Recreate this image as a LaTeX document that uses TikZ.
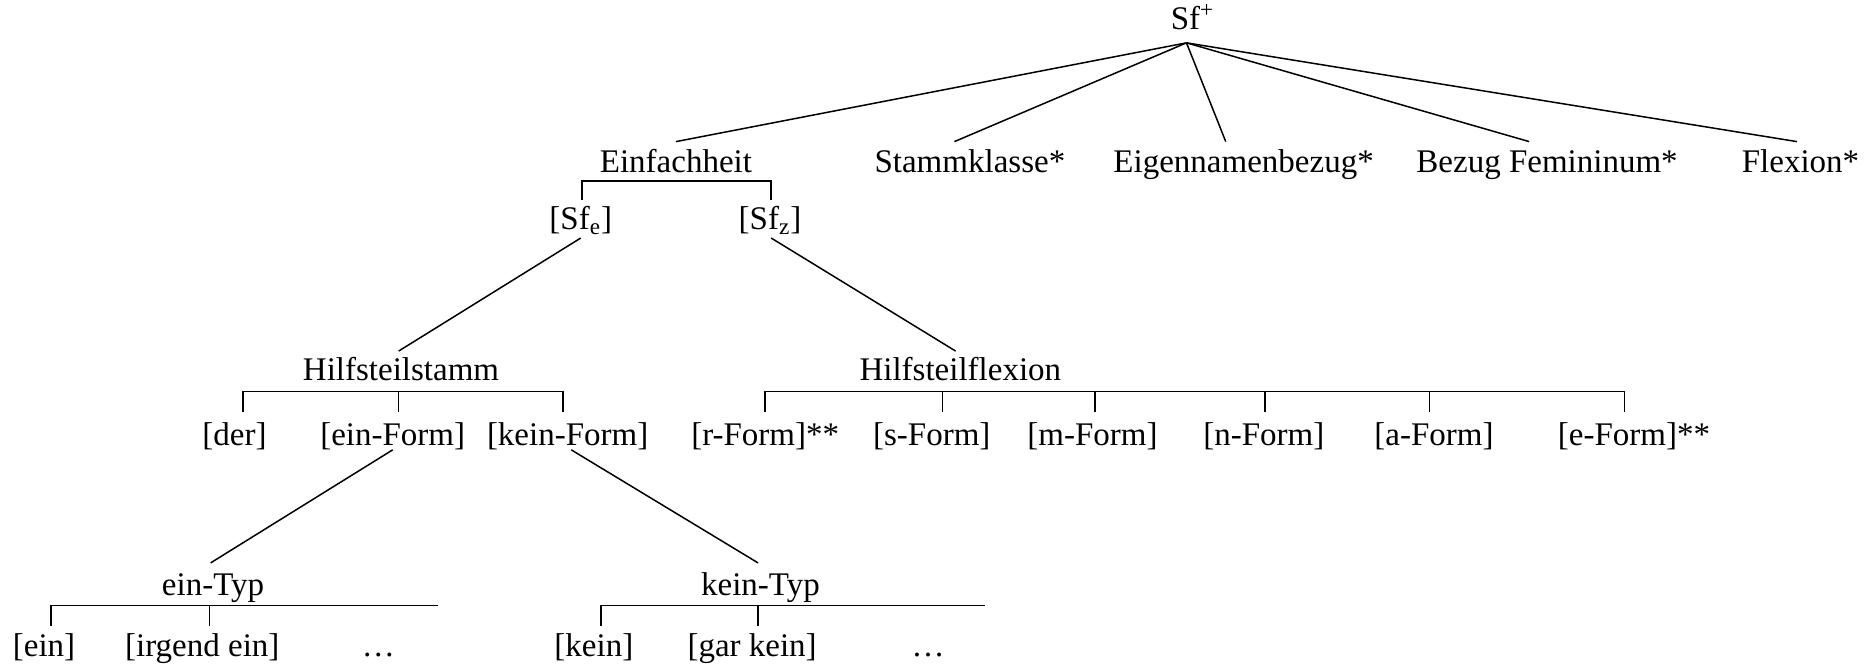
\documentclass[tikz,border=0pt]{standalone}
\usepackage{fontspec}
\setmainfont{Liberation Serif}
\begin{document}
\begin{tikzpicture}[x=0.595pt,y=-0.595pt,
  font=\fontsize{16.5}{19}\selectfont,
  lbl/.style={inner sep=0pt, anchor=base},
  edge/.style={line width=0.75pt}]
\useasboundingbox (0,0) rectangle (1568,558);
% level 0
\node[lbl] (sf) at (1002,25) {Sf\textsuperscript{+}};
\coordinate (apex) at (997,36);
% level 1
\node[lbl] (einf)  at (568,145)  {Einfachheit};
\node[lbl] (stamm) at (815,145)  {Stammklasse*};
\node[lbl] (eigen) at (1045,145) {Eigennamenbezug*};
\node[lbl] (bezug) at (1300,145) {Bezug Femininum*};
\node[lbl] (flex)  at (1513,145) {Flexion*};
\coordinate (einf-t)  at (568,119);
\coordinate (stamm-t) at (802,119);
\coordinate (eigen-t) at (1030,119);
\coordinate (bezug-t) at (1285,119);
\coordinate (flex-t)  at (1510,119);
\foreach \c in {einf-t,stamm-t,eigen-t,bezug-t,flex-t}
  \draw[edge] (apex) -- (\c);
% Einfachheit bracket
\node[lbl] (sfe) at (488,193) {[Sf\textsubscript{e}]};
\node[lbl] (sfz) at (647,193) {[Sf\textsubscript{z}]};
\coordinate (sfe-t) at (489,168);
\coordinate (sfz-t) at (648,168);
\draw[edge] (sfe-t) |- (sfz-t |- 0,152) -- (sfz-t);
% to level 3
\node[lbl] (hst) at (337,320) {Hilfsteilstamm};
\node[lbl] (hfl) at (807,320) {Hilfsteilflexion};
\coordinate (sfe-b) at (488,200);
\coordinate (sfz-b) at (648,200);
\coordinate (hst-t) at (335,295);
\coordinate (hfl-t) at (803,295);
\draw[edge] (sfe-b) -- (hst-t);
\draw[edge] (sfz-b) -- (hfl-t);
% Hilfsteilstamm bracket
\node[lbl] (der)  at (197,374) {[der]};
\node[lbl] (einF) at (330,374) {[ein-Form]};
\node[lbl] (keinF) at (477,374) {[kein-Form]};
\coordinate (der-t) at (204,346);
\coordinate (einF-t) at (335,346);
\coordinate (keinF-t) at (473,346);
\draw[edge] (der-t) |- (keinF-t |- 0,329) -- (keinF-t);
\draw[edge] (einF-t |- 0,329) -- (einF-t);
% Hilfsteilflexion bracket
\node[lbl] (rF) at (643,374)  {[r-Form]**};
\node[lbl] (sF) at (783,374)  {[s-Form]};
\node[lbl] (mF) at (918,374)  {[m-Form]};
\node[lbl] (nF) at (1062,374) {[n-Form]};
\node[lbl] (aF) at (1205,374) {[a-Form]};
\node[lbl] (eF) at (1373,374) {[e-Form]**};
\coordinate (rF-t) at (643,346);
\coordinate (sF-t) at (792,346);
\coordinate (mF-t) at (920,346);
\coordinate (nF-t) at (1063,346);
\coordinate (aF-t) at (1201,346);
\coordinate (eF-t) at (1365,346);
\draw[edge] (rF-t) |- (eF-t |- 0,329) -- (eF-t);
\foreach \c in {sF-t,mF-t,nF-t,aF-t}
  \draw[edge] (\c |- 0,329) -- (\c);
% to level 5
\node[lbl] (etyp) at (179,500) {ein-Typ};
\node[lbl] (ktyp) at (639,500) {kein-Typ};
\coordinate (einF-b) at (330,378);
\coordinate (keinF-b) at (480,378);
\coordinate (etyp-t) at (177,473);
\coordinate (ktyp-t) at (637,473);
\draw[edge] (einF-b) -- (etyp-t);
\draw[edge] (keinF-b) -- (ktyp-t);
% ein-Typ bracket
\node[lbl] (ein)  at (37,552)  {[ein]};
\node[lbl] (irg)  at (170,552) {[irgend ein]};
\node[lbl] (edots) at (318,552) {…};
\coordinate (ein-t) at (43,526);
\coordinate (irg-t) at (176,526);
\coordinate (eend) at (368,509);
\draw[edge] (ein-t) |- (eend);
\draw[edge] (irg-t |- eend) -- (irg-t);
% kein-Typ bracket
\node[lbl] (kein) at (499,552) {[kein]};
\node[lbl] (gar)  at (632,552) {[gar kein]};
\node[lbl] (kdots) at (780,552) {…};
\coordinate (kein-t) at (505,526);
\coordinate (gar-t) at (637,526);
\coordinate (kend) at (828,509);
\draw[edge] (kein-t) |- (kend);
\draw[edge] (gar-t |- kend) -- (gar-t);
\end{tikzpicture}
\end{document}
